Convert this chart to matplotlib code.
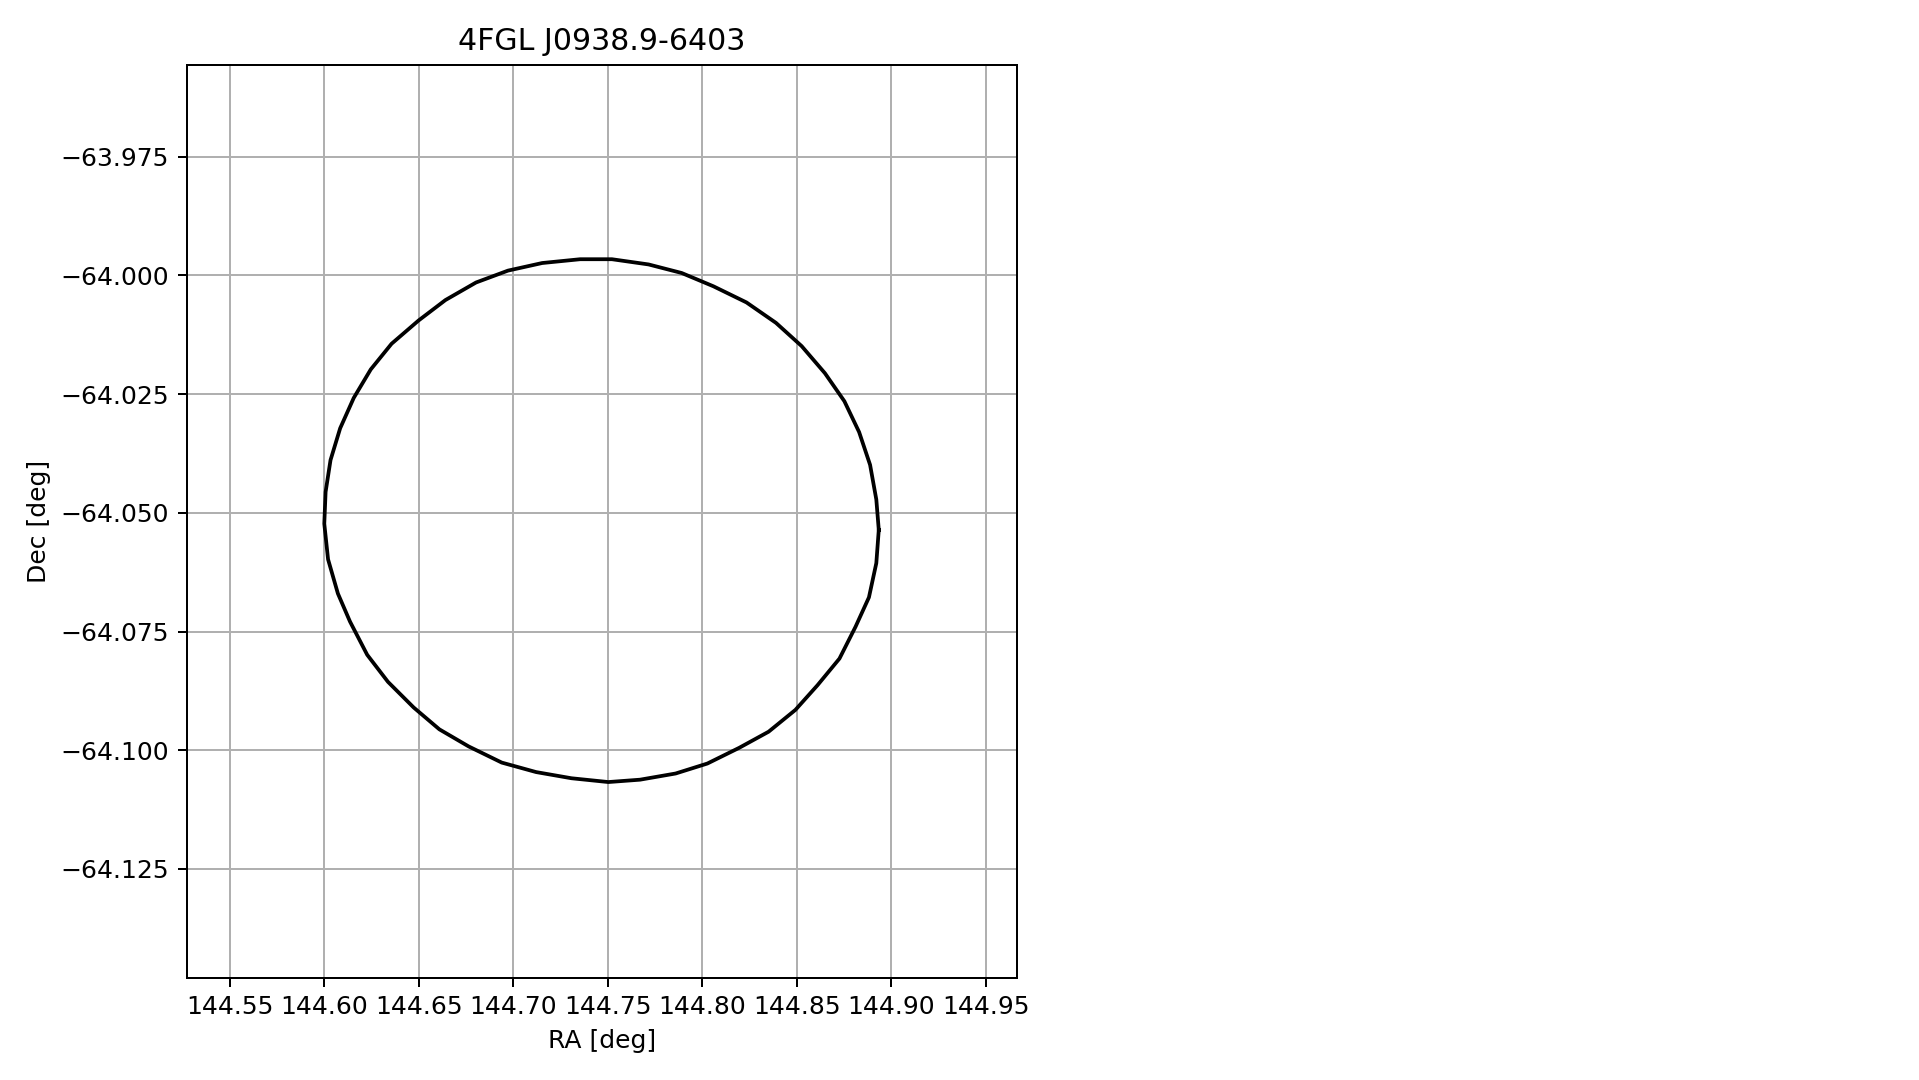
# error ellipse of a Fermi source, RA/Dec outline
import numpy as np
import matplotlib.pyplot as plt

source_name = "4FGL J0938.9-6403"

# outline vertices (deg), starting at the east end
ra = [144.8933, 144.8920, 144.8881, 144.8810, 144.8725, 144.8609, 144.8492,
      144.8350, 144.8194, 144.8026, 144.7858, 144.7670, 144.7502, 144.7307,
      144.7120, 144.6938, 144.6763, 144.6608, 144.6472, 144.6336, 144.6226,
      144.6135, 144.6071, 144.6019, 144.5999, 144.6006, 144.6032, 144.6083,
      144.6155, 144.6245, 144.6355, 144.6498, 144.6640, 144.6802, 144.6971,
      144.7152, 144.7353, 144.7521, 144.7715, 144.7890, 144.8058, 144.8233,
      144.8389, 144.8525, 144.8648, 144.8751, 144.8829, 144.8887, 144.8920,
      144.8933]
dec = [-64.0536, -64.0606, -64.0678, -64.0740, -64.0807, -64.0863, -64.0915,
       -64.0961, -64.0995, -64.1028, -64.1049, -64.1062, -64.1067, -64.1059,
       -64.1046, -64.1026, -64.0992, -64.0956, -64.0910, -64.0856, -64.0799,
       -64.0729, -64.0670, -64.0598, -64.0523, -64.0456, -64.0389, -64.0322,
       -64.0258, -64.0198, -64.0144, -64.0095, -64.0052, -64.0015, -63.9990,
       -63.9974, -63.9966, -63.9966, -63.9977, -63.9995, -64.0023, -64.0057,
       -64.0100, -64.0149, -64.0206, -64.0265, -64.0330, -64.0399, -64.0472,
       -64.0536]

ra_ticks = np.arange(144.55, 144.951, 0.05)
dec_ticks = np.arange(-64.125, -63.974, 0.025)

fig = plt.figure(figsize=(1919 / 180, 6), dpi=180)
ax = fig.add_axes([186.7 / 1919, 1 - 977.7 / 1080,
                   (1017.3 - 186.7) / 1919, (977.7 - 65) / 1080])

ax.plot(ra, dec, color='k', lw=1.5)
ax.set_xlim(144.5271, 144.9666)
ax.set_ylim(-64.1479, -63.9557)
ax.set_xticks(ra_ticks)
ax.set_yticks(dec_ticks)
ax.xaxis.set_major_formatter(plt.FormatStrFormatter('%.2f'))
ax.yaxis.set_major_formatter(plt.FuncFormatter(lambda v, p: ('%.3f' % v).replace('-', '\u2212')))
ax.grid(True)
ax.set_title(source_name)
ax.set_xlabel("RA [deg]")
ax.set_ylabel("Dec [deg]")

plt.savefig('out.png', dpi=180)
